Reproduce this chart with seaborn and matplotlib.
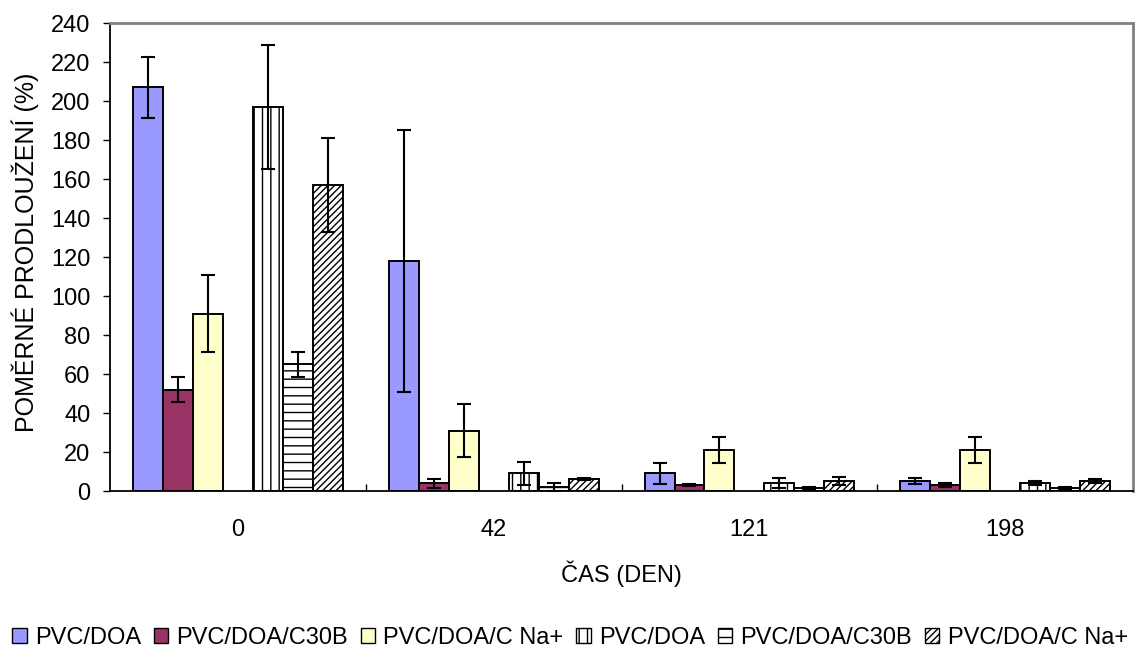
import numpy as np
import pandas as pd
import matplotlib
matplotlib.use("Agg")
import matplotlib.pyplot as plt
from matplotlib.patches import Patch
import seaborn as sns

# Time points (days)
days = ["0", "42", "121", "198"]

# Series labels (as shown in the legend) and their hue keys
series_labels = ["PVC/DOA", "PVC/DOA/C30B", "PVC/DOA/C Na+",
                 "PVC/DOA", "PVC/DOA/C30B", "PVC/DOA/C Na+"]
series_keys = ["A1", "A2", "A3", "B1", "B2", "B3"]

# Relative elongation (%) per series over days
a1_vals = [207, 118, 9, 5]
a2_vals = [52, 4, 3, 3]
a3_vals = [91, 31, 21, 21]
b1_vals = [197, 9, 4, 4]
b2_vals = [65, 2, 1.5, 1.5]
b3_vals = [157, 6, 5, 5]

# Standard deviations
a1_err = [15.5, 67, 5.5, 1.5]
a2_err = [6.5, 2.2, 0.5, 1]
a3_err = [19.6, 13.6, 6.8, 6.6]
b1_err = [31.7, 6, 2.7, 1]
b2_err = [6.5, 2.2, 0.5, 0.4]
b3_err = [24, 0.5, 2, 1]

values = [a1_vals, a2_vals, a3_vals, b1_vals, b2_vals, b3_vals]
errors = [a1_err, a2_err, a3_err, b1_err, b2_err, b3_err]

rows = []
for key, vals, errs in zip(series_keys, values, errors):
    for d, v, e in zip(days, vals, errs):
        rows.append({"day": d, "series": key, "value": v, "err": e})
df = pd.DataFrame(rows)

# an empty slot separates the two sample sets within each day
hue_order = ["A1", "A2", "A3", "gap", "B1", "B2", "B3"]

face = {"A1": "#9999FF", "A2": "#993366", "A3": "#FFFFCC",
        "B1": "white", "B2": "white", "B3": "white", "gap": "white"}
hatch = {"A1": None, "A2": None, "A3": None,
         "B1": "||", "B2": "--", "B3": "/////"}

sns.set_theme(style="white")
plt.rcParams["font.family"] = ["Liberation Sans", "DejaVu Sans"]
plt.rcParams["hatch.linewidth"] = 1.0
plt.rcParams["text.color"] = "black"
plt.rcParams["axes.labelcolor"] = "black"
plt.rcParams["xtick.color"] = "black"
plt.rcParams["ytick.color"] = "black"
FS = 17

fig = plt.figure(figsize=(11.4, 6.52), dpi=100)
ax = fig.add_axes([0.0965, 0.2469, 0.8974, 0.7178])

sns.barplot(data=df, x="day", y="value", hue="series", order=days,
            hue_order=hue_order, palette=face, width=0.82, errorbar=None,
            edgecolor="black", linewidth=1.4, legend=False, ax=ax)

containers = [c for c in ax.containers if len(c.patches) > 0]
present = [k for k in hue_order if k in series_keys]
for key, cont in zip(present, containers):
    sub = df[df["series"] == key].set_index("day").loc[days]
    xs, hs = [], []
    for p in cont.patches:
        p.set_facecolor(face[key])
        p.set_edgecolor("black")
        if hatch[key]:
            p.set_hatch(hatch[key])
        xs.append(p.get_x() + p.get_width() / 2)
        hs.append(p.get_height())
    ax.errorbar(xs, hs, yerr=sub["err"].values, fmt="none", ecolor="black",
                elinewidth=1.5, capsize=4.8, capthick=1.5, zorder=5)

ax.set_ylim(0, 240)
ax.set_yticks(np.arange(0, 241, 20))
ax.set_xlim(-0.5, 3.5)
ax.tick_params(axis="y", direction="out", length=5, width=1, color="black",
               labelsize=FS, labelcolor="black", pad=9, left=True)
ax.tick_params(axis="x", which="major", length=0, labelsize=FS,
               labelcolor="black", pad=20)
ax.set_xticks([0.5, 1.5, 2.5], minor=True)
ax.tick_params(axis="x", which="minor", direction="in", length=5, width=1,
               color="black", bottom=True)

for s in ["left", "bottom"]:
    ax.spines[s].set_color("black")
    ax.spines[s].set_linewidth(1.3)
for s in ["top", "right"]:
    ax.spines[s].set_color("#808080")
    ax.spines[s].set_linewidth(2)

ax.set_xlabel("ČAS (DEN)", fontsize=FS, color="black", labelpad=14)
ax.set_ylabel("POMĚRNÉ PRODLOUŽENÍ (%)", fontsize=18, color="black",
              va="center")
ax.yaxis.set_label_coords(-0.083, 0.509)

handles = [Patch(facecolor=face[k], edgecolor="black", hatch=hatch[k],
                 linewidth=1.0, label=l)
           for k, l in zip(series_keys, series_labels)]
leg = fig.legend(handles=handles, loc="center", bbox_to_anchor=(0.5, 0.021),
                 ncol=6, frameon=False, fontsize=FS, handlelength=0.6,
                 handleheight=0.6, handletextpad=0.35, columnspacing=0.55,
                 borderpad=0)
for t in leg.get_texts():
    t.set_color("black")

fig.savefig("out.png", dpi=100)
